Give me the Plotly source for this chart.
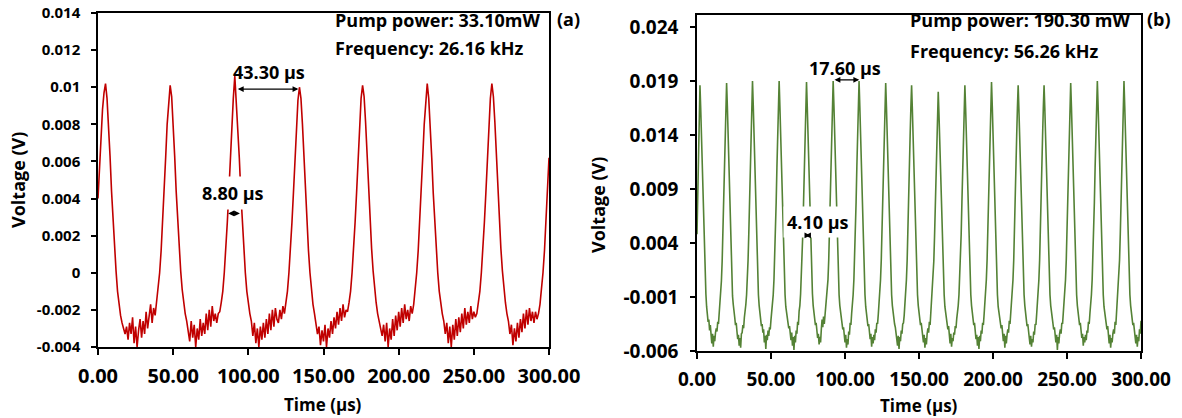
import plotly.graph_objects as go

# ---------------- data: panel (a) ----------------
# sampled every 1 us, 0..300 us
volt_a = [
    0.0040, 0.0058, 0.0075, 0.0088, 0.0097, 0.0102, 0.0094, 0.0080, 0.0063, 0.0044,
    0.0027, 0.0012, 0.0001, -0.0010, -0.0017, -0.0023, -0.0027, -0.0030, -0.0033, -0.0029,
    -0.0036, -0.0027, -0.0033, -0.0024, -0.0038, -0.0029, -0.0040, -0.0031, -0.0025, -0.0035,
    -0.0026, -0.0033, -0.0021, -0.0030, -0.0024, -0.0017, -0.0027, -0.0019, -0.0023, -0.0016,
    -0.0010, 0.0000, 0.0012, 0.0027, 0.0043, 0.0062, 0.0080, 0.0093, 0.0101, 0.0095,
    0.0081, 0.0063, 0.0044, 0.0028, 0.0013, 0.0001, -0.0009, -0.0016, -0.0022, -0.0026,
    -0.0031, -0.0037, -0.0026, -0.0035, -0.0028, -0.0040, -0.0030, -0.0036, -0.0025, -0.0034,
    -0.0027, -0.0033, -0.0022, -0.0031, -0.0020, -0.0029, -0.0018, -0.0026, -0.0022, -0.0027,
    -0.0022, -0.0021, -0.0016, -0.0010, 0.0000, 0.0012, 0.0027, 0.0043, 0.0062, 0.0080,
    0.0094, 0.0106, 0.0093, 0.0080, 0.0062, 0.0043, 0.0027, 0.0012, 0.0000, -0.0010,
    -0.0017, -0.0022, -0.0026, -0.0034, -0.0027, -0.0038, -0.0030, -0.0040, -0.0029, -0.0036,
    -0.0027, -0.0035, -0.0025, -0.0033, -0.0022, -0.0031, -0.0020, -0.0029, -0.0019, -0.0025,
    -0.0027, -0.0020, -0.0025, -0.0018, -0.0022, -0.0016, -0.0010, 0.0000, 0.0012, 0.0027,
    0.0043, 0.0062, 0.0080, 0.0093, 0.0100, 0.0094, 0.0080, 0.0062, 0.0043, 0.0027,
    0.0012, 0.0000, -0.0010, -0.0017, -0.0022, -0.0027, -0.0033, -0.0029, -0.0039, -0.0031,
    -0.0037, -0.0028, -0.0040, -0.0030, -0.0035, -0.0026, -0.0033, -0.0024, -0.0030, -0.0021,
    -0.0028, -0.0019, -0.0026, -0.0017, -0.0024, -0.0020, -0.0021, -0.0016, -0.0010, 0.0000,
    0.0012, 0.0027, 0.0043, 0.0062, 0.0080, 0.0094, 0.0101, 0.0095, 0.0081, 0.0063,
    0.0044, 0.0028, 0.0013, 0.0001, -0.0009, -0.0016, -0.0022, -0.0026, -0.0030, -0.0034,
    -0.0028, -0.0037, -0.0027, -0.0040, -0.0030, -0.0036, -0.0025, -0.0034, -0.0023, -0.0031,
    -0.0021, -0.0029, -0.0019, -0.0027, -0.0017, -0.0025, -0.0020, -0.0026, -0.0018, -0.0022,
    -0.0017, -0.0010, 0.0000, 0.0012, 0.0027, 0.0043, 0.0062, 0.0080, 0.0094, 0.0102,
    0.0094, 0.0080, 0.0062, 0.0043, 0.0027, 0.0012, 0.0000, -0.0010, -0.0017, -0.0022,
    -0.0026, -0.0033, -0.0027, -0.0038, -0.0029, -0.0040, -0.0028, -0.0036, -0.0025, -0.0034,
    -0.0024, -0.0032, -0.0022, -0.0030, -0.0019, -0.0028, -0.0021, -0.0027, -0.0018, -0.0025,
    -0.0021, -0.0024, -0.0022, -0.0017, -0.0010, 0.0000, 0.0012, 0.0027, 0.0043, 0.0062,
    0.0080, 0.0094, 0.0102, 0.0095, 0.0081, 0.0063, 0.0044, 0.0028, 0.0013, 0.0001,
    -0.0009, -0.0016, -0.0022, -0.0026, -0.0033, -0.0028, -0.0039, -0.0030, -0.0037, -0.0027,
    -0.0035, -0.0025, -0.0032, -0.0022, -0.0030, -0.0020, -0.0028, -0.0019, -0.0026, -0.0021,
    -0.0027, -0.0021, -0.0025, -0.0022, -0.0017, -0.0010, 0.0000, 0.0012, 0.0027, 0.0043, 0.0062,
]
time_a = [i * 1.0 for i in range(len(volt_a))]

# ---------------- data: panel (b) ----------------
# sampled every 0.5 us, 0..300 us
volt_b = [
    0.0048, 0.0090, 0.0128, 0.0160,
    0.0186, 0.0165, 0.0141, 0.0111, 0.0079, 0.0049, 0.0025, 0.0007, -0.0007, -0.0019, -0.0024, -0.0033, -0.0031, -0.0041, -0.0036,
    -0.0047, -0.0053, -0.0044, -0.0056, -0.0046, -0.0051, -0.0043,
    -0.0039, -0.0042, -0.0033, -0.0035, -0.0026, -0.0019, -0.0009, 0.0005, 0.0023, 0.0047, 0.0077, 0.0109, 0.0139, 0.0166,
    0.0188, 0.0167, 0.0139, 0.0110, 0.0078, 0.0048, 0.0024, 0.0005, -0.0009, -0.0017, -0.0027, -0.0029, -0.0036, -0.0034, -0.0042,
    -0.0049, -0.0045, -0.0055, -0.0048, -0.0057, -0.0044,
    -0.0043, -0.0036, -0.0039, -0.0029, -0.0025, -0.0017, -0.0008, 0.0006, 0.0024, 0.0049, 0.0079, 0.0111, 0.0141, 0.0168,
    0.0190, 0.0168, 0.0142, 0.0111, 0.0078, 0.0047, 0.0023, 0.0006, -0.0008, -0.0018, -0.0026, -0.0030, -0.0037, -0.0035, -0.0043,
    -0.0040, -0.0052, -0.0046, -0.0058, -0.0045, -0.0050, -0.0041,
    -0.0046, -0.0038, -0.0040, -0.0031, -0.0024, -0.0018, -0.0008, 0.0006, 0.0024, 0.0048, 0.0078, 0.0110, 0.0140, 0.0168,
    0.0190, 0.0167, 0.0140, 0.0109, 0.0077, 0.0048, 0.0024, 0.0006, -0.0008, -0.0019, -0.0025, -0.0031, -0.0035, -0.0039, -0.0037,
    -0.0045, -0.0050, -0.0043, -0.0055, -0.0047, -0.0059, -0.0046, -0.0052,
    -0.0041, -0.0044, -0.0033, -0.0036, -0.0023, -0.0018, -0.0007, 0.0007, 0.0025, 0.0049, 0.0078, 0.0110, 0.0140, 0.0167,
    0.0189, 0.0166, 0.0141, 0.0110, 0.0079, 0.0048, 0.0025, 0.0006, -0.0007, -0.0018, -0.0026, -0.0029, -0.0036, -0.0034, -0.0042,
    -0.0048, -0.0044, -0.0054, -0.0047, -0.0052, -0.0040, -0.0031,
    -0.0038, -0.0028, -0.0035, -0.0027, -0.0022, -0.0017, -0.0008, 0.0006, 0.0024, 0.0048, 0.0078, 0.0110, 0.0141, 0.0168,
    0.0190, 0.0168, 0.0141, 0.0110, 0.0078, 0.0048, 0.0024, 0.0005, -0.0008, -0.0018, -0.0025, -0.0031, -0.0034, -0.0040, -0.0038,
    -0.0046, -0.0052, -0.0045, -0.0057, -0.0049, -0.0054,
    -0.0042, -0.0045, -0.0034, -0.0036, -0.0025, -0.0018, -0.0008, 0.0006, 0.0024, 0.0048, 0.0078, 0.0110, 0.0140, 0.0168,
    0.0190, 0.0167, 0.0140, 0.0111, 0.0079, 0.0049, 0.0024, 0.0006, -0.0008, -0.0019, -0.0026, -0.0030, -0.0037, -0.0035, -0.0041,
    -0.0049, -0.0044, -0.0056, -0.0047, -0.0053, -0.0045, -0.0050,
    -0.0040, -0.0043, -0.0034, -0.0035, -0.0026, -0.0018, -0.0008, 0.0006, 0.0024, 0.0048, 0.0078, 0.0110, 0.0140, 0.0166,
    0.0188, 0.0166, 0.0140, 0.0110, 0.0078, 0.0048, 0.0024, 0.0006, -0.0008, -0.0018, -0.0025, -0.0030, -0.0035, -0.0038, -0.0043,
    -0.0048, -0.0055, -0.0046, -0.0058, -0.0047, -0.0051,
    -0.0041, -0.0044, -0.0035, -0.0034, -0.0027, -0.0018, -0.0008, 0.0006, 0.0024, 0.0047, 0.0077, 0.0109, 0.0139, 0.0165,
    0.0186, 0.0164, 0.0139, 0.0109, 0.0078, 0.0048, 0.0024, 0.0006, -0.0008, -0.0018, -0.0026, -0.0029, -0.0036, -0.0034, -0.0042,
    -0.0047, -0.0052, -0.0045, -0.0057, -0.0048, -0.0054, -0.0044,
    -0.0039, -0.0043, -0.0033, -0.0036, -0.0025, -0.0018, -0.0008, 0.0005, 0.0023, 0.0046, 0.0075, 0.0106, 0.0134, 0.0160,
    0.0180, 0.0159, 0.0134, 0.0106, 0.0076, 0.0047, 0.0023, 0.0005, -0.0008, -0.0019, -0.0025, -0.0031, -0.0035, -0.0040, -0.0037,
    -0.0046, -0.0053, -0.0044, -0.0056, -0.0048, -0.0051, -0.0043,
    -0.0045, -0.0037, -0.0039, -0.0030, -0.0025, -0.0018, -0.0008, 0.0006, 0.0024, 0.0048, 0.0078, 0.0109, 0.0139, 0.0165,
    0.0186, 0.0165, 0.0140, 0.0110, 0.0078, 0.0048, 0.0024, 0.0006, -0.0008, -0.0018, -0.0026, -0.0030, -0.0036, -0.0034, -0.0043,
    -0.0049, -0.0045, -0.0055, -0.0047, -0.0058, -0.0046, -0.0051,
    -0.0041, -0.0044, -0.0034, -0.0036, -0.0026, -0.0018, -0.0008, 0.0006, 0.0024, 0.0048, 0.0078, 0.0110, 0.0140, 0.0167,
    0.0189, 0.0167, 0.0141, 0.0110, 0.0079, 0.0048, 0.0024, 0.0006, -0.0008, -0.0019, -0.0025, -0.0031, -0.0035, -0.0039, -0.0036,
    -0.0047, -0.0051, -0.0044, -0.0057, -0.0046, -0.0053, -0.0045,
    -0.0040, -0.0043, -0.0032, -0.0035, -0.0025, -0.0018, -0.0008, 0.0006, 0.0024, 0.0047, 0.0077, 0.0109, 0.0139, 0.0165,
    0.0186, 0.0164, 0.0139, 0.0109, 0.0078, 0.0048, 0.0024, 0.0006, -0.0008, -0.0018, -0.0026, -0.0030, -0.0037, -0.0035, -0.0042,
    -0.0048, -0.0054, -0.0046, -0.0056, -0.0049, -0.0052,
    -0.0042, -0.0045, -0.0035, -0.0036, -0.0026, -0.0018, -0.0008, 0.0006, 0.0024, 0.0047, 0.0077, 0.0109, 0.0139, 0.0165,
    0.0186, 0.0165, 0.0140, 0.0110, 0.0078, 0.0048, 0.0024, 0.0006, -0.0008, -0.0018, -0.0025, -0.0031, -0.0035, -0.0040, -0.0038,
    -0.0046, -0.0052, -0.0045, -0.0059, -0.0047, -0.0053, -0.0044,
    -0.0040, -0.0044, -0.0034, -0.0035, -0.0026, -0.0018, -0.0008, 0.0006, 0.0024, 0.0048, 0.0078, 0.0110, 0.0140, 0.0166,
    0.0188, 0.0166, 0.0140, 0.0110, 0.0078, 0.0048, 0.0024, 0.0006, -0.0008, -0.0018, -0.0026, -0.0030, -0.0036, -0.0034, -0.0042,
    -0.0048, -0.0044, -0.0055, -0.0047, -0.0052, -0.0045, -0.0050,
    -0.0041, -0.0043, -0.0033, -0.0035, -0.0025, -0.0018, -0.0008, 0.0006, 0.0024, 0.0048, 0.0078, 0.0110, 0.0141, 0.0168,
    0.0190, 0.0168, 0.0141, 0.0111, 0.0079, 0.0048, 0.0024, 0.0006, -0.0008, -0.0019, -0.0025, -0.0031, -0.0035, -0.0040, -0.0037,
    -0.0047, -0.0053, -0.0045, -0.0057, -0.0048, -0.0052, -0.0044,
    -0.0040, -0.0044, -0.0033, -0.0036, -0.0025, -0.0018, -0.0008, 0.0006, 0.0024, 0.0048, 0.0078, 0.0110, 0.0141, 0.0168,
    0.0190, 0.0167, 0.0141, 0.0110, 0.0078, 0.0048, 0.0024, 0.0006, -0.0008, -0.0018, -0.0026, -0.0030, -0.0036, -0.0034, -0.0042,
    -0.0048, -0.0053, -0.0045, -0.0056, -0.0047, -0.0051, -0.0040, -0.0044, -0.0032,
]
time_b = [i * 0.5 for i in range(len(volt_b))]

# ---------------- axis ticks ----------------
x_ticks = [0, 50, 100, 150, 200, 250, 300]
x_tick_text = ["0.00", "50.00", "100.00", "150.00", "200.00", "250.00", "300.00"]
ya_ticks = [-0.004, -0.002, 0, 0.002, 0.004, 0.006, 0.008, 0.01, 0.012, 0.014]
ya_tick_text = ["-0.004", "-0.002", "0", "0.002", "0.004", "0.006", "0.008", "0.01", "0.012", "0.014"]
yb_ticks = [-0.006, -0.001, 0.004, 0.009, 0.014, 0.019, 0.024]
yb_tick_text = ["-0.006", "-0.001", "0.004", "0.009", "0.014", "0.019", "0.024"]

# annotation measurements (us)
period_a = (92.0, 133.3)
width_a = (85.6, 94.4)
period_b = (91.9, 109.6)
width_b = (72.0, 76.6)

FONT = "Open Sans"
W, H = 1182, 418

fig = go.Figure()
fig.add_trace(go.Scatter(x=time_a, y=volt_a, mode="lines", xaxis="x", yaxis="y",
                         line=dict(color="#c00000", width=1.6), showlegend=False))
fig.add_trace(go.Scatter(x=time_b, y=volt_b, mode="lines", xaxis="x2", yaxis="y2",
                         line=dict(color="#548235", width=1.6), showlegend=False))

def xaxis(domain, anchor, size):
    return dict(domain=domain, anchor=anchor, range=[0, 300], tickvals=x_ticks, ticktext=x_tick_text,
                showgrid=False, zeroline=False, showline=True, linecolor="black", linewidth=1.5,
                mirror=True, ticks="outside", ticklen=6, tickcolor="black", tickwidth=1.5,
                automargin=False, ticklabelstandoff=4,
                tickfont=dict(family=FONT, size=size, color="black", weight="bold"))

def yaxis(domain, anchor, rng, vals, text, size):
    return dict(domain=domain, anchor=anchor, range=rng, tickvals=vals, ticktext=text,
                showgrid=False, zeroline=False, showline=True, linecolor="black", linewidth=1.5,
                mirror=True, ticks="outside", ticklen=5, tickcolor="black", tickwidth=1.5,
                automargin=False, ticklabelstandoff=8,
                tickfont=dict(family=FONT, size=size, color="black", weight="bold"))

fig.update_layout(
    width=W, height=H, margin=dict(l=0, r=0, t=0, b=0, autoexpand=False),
    paper_bgcolor="white", plot_bgcolor="white",
    xaxis=xaxis([98 / W, 549 / W], "y", 20),
    yaxis=yaxis([1 - 347 / H, 1 - 13 / H], "x", [-0.004, 0.014], ya_ticks, ya_tick_text, 15),
    xaxis2=xaxis([697 / W, 1141 / W], "y2", 19),
    yaxis2=yaxis([1 - 351 / H, 1 - 15 / H], "x2", [-0.006, 0.0251], yb_ticks, yb_tick_text, 19),
)

def text_ann(x, y, text, size=18, xref="paper", yref="paper", xanchor="left", bg=None, angle=0, pad=1):
    d = dict(x=x, y=y, xref=xref, yref=yref, text=text, showarrow=False, xanchor=xanchor,
             yanchor="middle", textangle=angle,
             font=dict(family=FONT, size=size, color="black", weight="bold"))
    if bg:
        d.update(bgcolor=bg, borderpad=pad)
    return d

def arrow_ann(x0, x1, y, xref, yref):
    return dict(x=x1, y=y, ax=x0, ay=y, xref=xref, yref=yref, axref=xref, ayref=yref,
                text="", showarrow=True, arrowside="end+start", arrowhead=2, arrowsize=0.9,
                arrowwidth=1.3, arrowcolor="black", standoff=0, startstandoff=0)

anns = [
    # panel (a)
    text_ann(333 / W, 1 - 20 / H, "Pump power: 33.10mW"),
    text_ann(333 / W, 1 - 48 / H, "Frequency: 26.16 kHz"),
    text_ann(555 / W, 1 - 19 / H, "(a)"),
    text_ann(114, 0.0108, "43.30 µs", xref="x", yref="y", xanchor="center"),
    text_ann(90, 0.0043, "8.80 µs", xref="x", yref="y", xanchor="center", bg="white", pad=4),
    arrow_ann(period_a[0], period_a[1], 0.0099, "x", "y"),
    arrow_ann(width_a[0], width_a[1], 0.0032, "x", "y"),
    text_ann(18 / W, 1 - 180 / H, "Voltage (V)", size=18, xanchor="center", angle=-90),
    text_ann(323 / W, 1 - 404 / H, "Time (µs)", size=17, xanchor="center"),
    # panel (b)
    text_ann(908 / W, 1 - 20 / H, "Pump power: 190.30 mW"),
    text_ann(908 / W, 1 - 51 / H, "Frequency: 56.26 kHz"),
    text_ann(1145 / W, 1 - 19 / H, "(b)"),
    text_ann(100, 0.0202, "17.60 µs", xref="x2", yref="y2", xanchor="center"),
    text_ann(81.5, 0.0059, "4.10 µs", xref="x2", yref="y2", xanchor="center", bg="white", pad=3),
    arrow_ann(period_b[0], period_b[1], 0.0191, "x2", "y2"),
    arrow_ann(width_b[0], width_b[1], 0.0047, "x2", "y2"),
    text_ann(598 / W, 1 - 205 / H, "Voltage (V)", size=18, xanchor="center", angle=-90),
    text_ann(919 / W, 1 - 405 / H, "Time (µs)", size=17, xanchor="center"),
]
fig.update_layout(annotations=anns)

fig.write_html("out.html", config={"displayModeBar": False},
               post_script="document.body.style.margin='0';document.body.style.padding='0';")
